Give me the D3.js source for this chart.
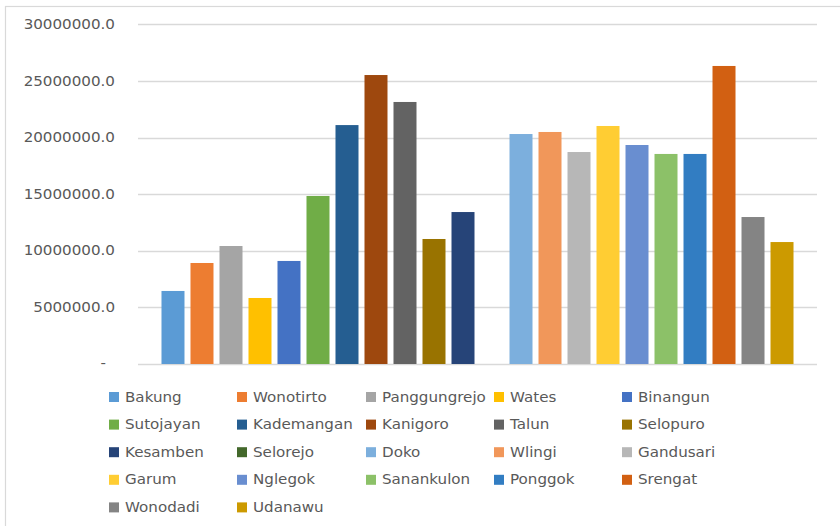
<!DOCTYPE html>
<html>
<head>
<meta charset="utf-8">
<script src="https://cdn.jsdelivr.net/npm/d3@7"></script>
<style>
  html, body { margin: 0; padding: 0; background: #fff; }
  svg { display: block; }
</style>
</head>
<body>
<svg id="chart" width="840" height="526"></svg>
<script>
const seriesNames = ["Bakung","Wonotirto","Panggungrejo","Wates","Binangun","Sutojayan","Kademangan","Kanigoro","Talun","Selopuro","Kesamben","Selorejo","Doko","Wlingi","Gandusari","Garum","Nglegok","Sanankulon","Ponggok","Srengat","Wonodadi","Udanawu"];
const seriesValues = [6450000, 8920000, 10420000, 5830000, 9100000, 14840000, 21100000, 25520000, 23140000, 11040000, 13420000, 0, 20310000, 20490000, 18720000, 21020000, 19340000, 18550000, 18550000, 26320000, 12980000, 10770000];
const seriesColors = ["#5B9BD5","#ED7D31","#A5A5A5","#FFC000","#4472C4","#70AD47","#255E91","#9E480E","#636363","#997300","#264478","#43682B","#7CAFDD","#F1975A","#B7B7B7","#FFCD33","#698ED0","#8CC168","#327DC2","#D26012","#848484","#CC9A00"];
const yTicks = [0, 5000000, 10000000, 15000000, 20000000, 25000000, 30000000];

const svg = d3.select("#chart");
const font = "'DejaVu Sans', sans-serif";
const textColor = "#595959";

// chart border
svg.append("rect").attr("x", 5.5).attr("y", 6.5).attr("width", 840).attr("height", 530)
  .attr("fill", "none").attr("stroke", "#D9D9D9").attr("stroke-width", 1.2);

const plotLeft = 138, plotRight = 817, plotTop = 24.3, plotBottom = 364;

const y = d3.scaleLinear().domain([0, 30000000]).range([plotBottom, plotTop]);
const x = d3.scaleBand().domain(seriesNames).range([plotLeft, plotRight])
  .paddingInner(0.207).paddingOuter(0.81);

// gridlines
svg.append("g").selectAll("line").data(yTicks).join("line")
  .attr("x1", plotLeft).attr("x2", plotRight)
  .attr("y1", d => Math.round(y(d)) + 0.5).attr("y2", d => Math.round(y(d)) + 0.5)
  .attr("stroke", "#D9D9D9").attr("stroke-width", 1.3);

// y axis labels
const yAxis = d3.axisLeft(y).tickValues(yTicks)
  .tickFormat(d => d === 0 ? "-" : d3.format(".1f")(d))
  .tickSize(0).tickPadding(0);
const yg = svg.append("g").attr("transform", "translate(115,0)").call(yAxis);
yg.select(".domain").remove();
yg.selectAll("text")
  .attr("font-family", font).attr("font-size", 13.5).attr("fill", textColor)
  .attr("x", null).attr("dy", null)
  .attr("transform", d => `translate(${d === 0 ? -9 : 0},${y(d) + 4.7 - (d===0?1:0)}) scale(1.12,1)`)
  .attr("y", 0)
  .each(function(){ d3.select(this.parentNode).attr("transform", null); });
yg.selectAll(".tick").attr("transform", null);

// bars
svg.append("g").selectAll("rect").data(seriesNames).join("rect")
  .attr("x", d => x(d))
  .attr("width", x.bandwidth())
  .attr("y", (d, i) => y(seriesValues[i]))
  .attr("height", (d, i) => plotBottom - y(seriesValues[i]))
  .attr("fill", (d, i) => seriesColors[i]);

// legend
const legCols = 5, colX = [109, 237, 366, 494, 622], rowY0 = 392, rowStep = 27.6;
const lg = svg.append("g").selectAll("g").data(seriesNames).join("g")
  .attr("transform", (d, i) => `translate(${colX[i % legCols]},${rowY0 + Math.floor(i / legCols) * rowStep})`);
lg.append("rect").attr("width", 10).attr("height", 10)
  .attr("fill", (d, i) => seriesColors[i]);
lg.append("text").text(d => d)
  .attr("transform", "translate(16,9.5) scale(1.12,1)")
  .attr("font-family", font).attr("font-size", 13.5).attr("fill", textColor);
</script>
</body>
</html>
